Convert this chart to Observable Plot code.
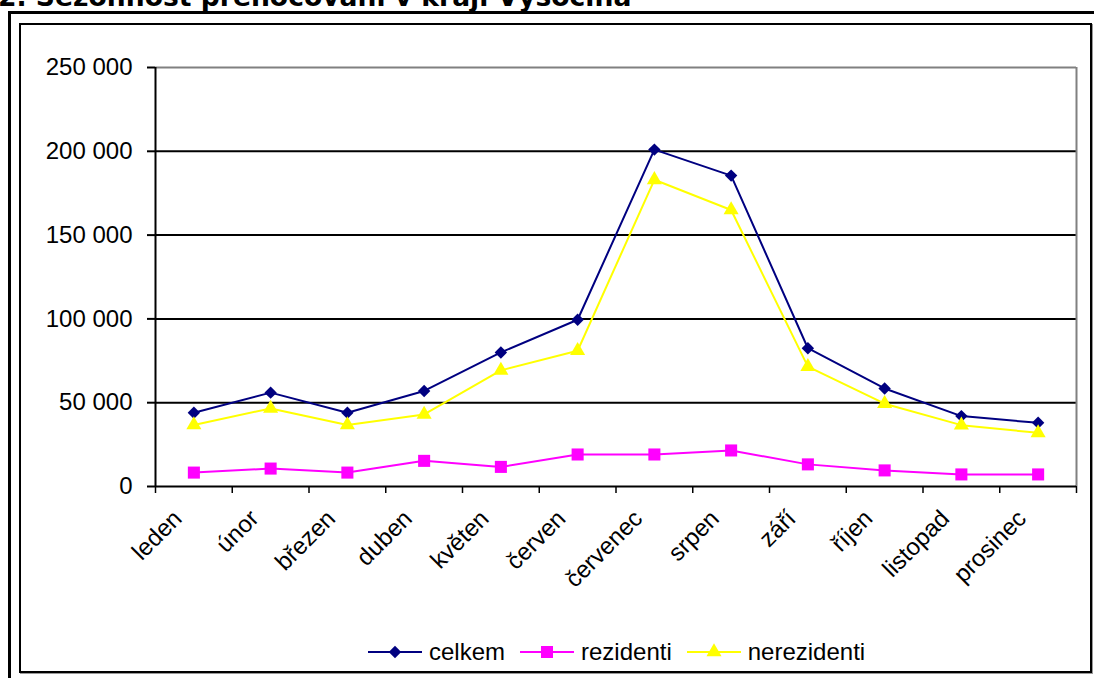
<!DOCTYPE html>
<html><head><meta charset="utf-8">
<script src="https://cdn.jsdelivr.net/npm/d3@7"></script>
<script src="https://cdn.jsdelivr.net/npm/@observablehq/plot@0.6"></script>
<style>
body{margin:0;background:#fff;width:1094px;height:678px;overflow:hidden;position:relative;font-family:"Liberation Sans",Arial,sans-serif;}
#title{position:absolute;left:-2px;top:-16px;font:bold 26.6px/26px "DejaVu Sans",Verdana,sans-serif;white-space:nowrap;color:#000;}
#outer{position:absolute;left:8px;top:11px;width:1200px;height:800px;border-left:3px solid #000;border-top:3px solid #000;}
#inner{position:absolute;left:19px;top:23px;width:1069px;height:646px;border:2px solid #000;box-shadow:1px 1px 0 #999;background:#fff;}
#chart{position:absolute;left:21px;top:25px;}
#legend{position:absolute;left:368px;top:638px;display:flex;align-items:center;font-size:24px;color:#000;}
#legend .item{display:flex;align-items:center;margin-right:15px;}
#legend svg{margin-right:7px;}
</style>
</head><body>
<div id="title">2. Sezónnost přenocování v kraji Vysočina</div>
<div id="outer"></div>
<div id="inner"></div>
<div id="chart"></div>
<div id="legend"></div>
<script>
const months = ["leden","únor","březen","duben","květen","červen","červenec","srpen","září","říjen","listopad","prosinec"];
const celkem = [44000, 56000, 44000, 57000, 80000, 99500, 201000, 185500, 82500, 58500, 42000, 38000];
const rezidenti = [8300, 10700, 8300, 15300, 11700, 19100, 19100, 21500, 13200, 9600, 7200, 7200];
const nerezidenti = [36700, 46600, 36700, 43000, 69300, 81000, 183000, 165000, 71500, 49400, 36600, 32000];
const yTicks = [0, 50000, 100000, 150000, 200000, 250000];

const seriesDefs = [
  {name: "celkem", values: celkem, color: "#000080", symbol: "diamond2", r: 5.6},
  {name: "rezidenti", values: rezidenti, color: "#FF00FF", symbol: "square", r: 6.8},
  {name: "nerezidenti", values: nerezidenti, color: "#FFFF00", symbol: "triangle", r: 5.6}
];

const idx = months.map((m, i) => i);
const bounds = d3.range(months.length + 1).map(i => i - 0.5);
const fmt = v => d3.format(",")(v).replace(/,/g, " ");

const marks = [
  Plot.ruleY(yTicks.slice(1, -1), {stroke: "#000", strokeWidth: 2}),
  Plot.ruleY(yTicks.slice(-1), {stroke: "#808080", strokeWidth: 2}),
  Plot.ruleX(bounds.slice(-1), {stroke: "#808080", strokeWidth: 2}),
  Plot.axisY(yTicks, {tickSize: 8, tickPadding: 15, tickFormat: fmt, fontSize: 24, stroke: "#000", strokeWidth: 2, strokeOpacity: 1, label: null}),
  Plot.axisX(bounds, {tickSize: 7, tickFormat: () => "", stroke: "#000", strokeWidth: 1.5, strokeOpacity: 1, label: null}),
  Plot.axisX(idx, {tickSize: 0, tickPadding: 14, tickRotate: -45, tickFormat: i => months[i], fontSize: 24, dx: -16, dy: 14, label: null}),
  Plot.ruleX(bounds.slice(0, 1), {stroke: "#000", strokeWidth: 2}),
  Plot.ruleY([0], {stroke: "#000", strokeWidth: 2})
];
for (const s of seriesDefs) {
  const data = s.values.map((v, i) => ({i, v}));
  marks.push(Plot.line(data, {x: "i", y: "v", stroke: s.color, strokeWidth: 2}));
}
for (const s of seriesDefs) {
  const data = s.values.map((v, i) => ({i, v}));
  marks.push(Plot.dot(data, {x: "i", y: "v", symbol: s.symbol, r: s.r, fill: s.color, stroke: "none"}));
}

const chart = Plot.plot({
  width: 1068,
  height: 575,
  marginLeft: 134,
  marginRight: 13,
  marginTop: 42,
  marginBottom: 114,
  style: {fontFamily: "'Liberation Sans', Arial, sans-serif", color: "#000", background: "transparent", overflow: "visible"},
  x: {domain: [bounds[0], bounds[bounds.length - 1]], axis: null},
  y: {domain: [yTicks[0], yTicks[yTicks.length - 1]], axis: null},
  marks
});
document.getElementById("chart").appendChild(chart);

const legend = document.getElementById("legend");
for (const s of seriesDefs) {
  const item = document.createElement("div");
  item.className = "item";
  const sym = d3.symbol(s.symbol === "diamond2" ? d3.symbolDiamond2 : s.symbol === "square" ? d3.symbolSquare : d3.symbolTriangle, s.r * s.r * Math.PI)();
  item.innerHTML = `<svg width="54" height="20" viewBox="0 0 54 20"><line x1="0" x2="54" y1="10" y2="10" stroke="${s.color}" stroke-width="2"/><path d="${sym}" transform="translate(27,10)" fill="${s.color}"/></svg><span>${s.name}</span>`;
  legend.appendChild(item);
}
</script>
</body></html>
